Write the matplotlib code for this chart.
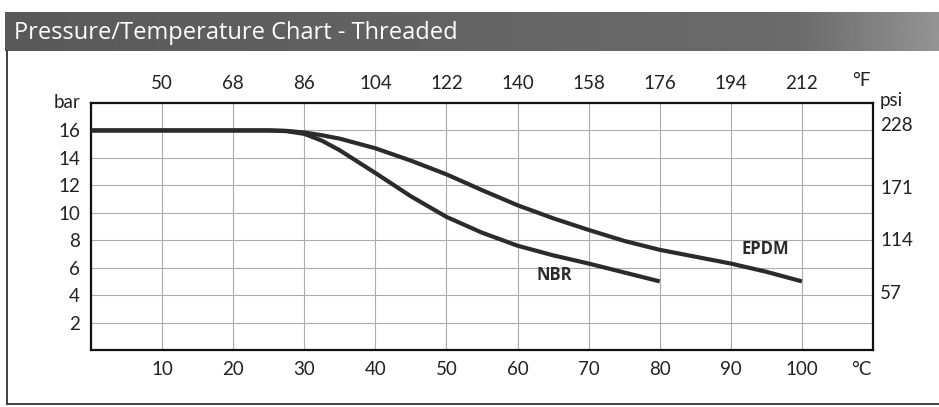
import matplotlib
matplotlib.use("Agg")
import matplotlib.pyplot as plt
import numpy as np
from matplotlib.lines import Line2D

# temperature in degC, pressure in bar
nbr_temp = [0, 10, 20, 25, 27.5, 30, 32.5, 35, 40, 45, 50, 55, 60, 65, 70, 75, 80]
nbr_bar = [16, 16, 16, 16, 15.95, 15.75, 15.25, 14.55, 12.9, 11.2, 9.7, 8.55, 7.6, 6.9, 6.3, 5.65, 5.0]

epdm_temp = [0, 10, 20, 25, 27.5, 30, 32.5, 35, 40, 45, 50, 55, 60, 65, 70, 75, 80, 85, 90, 95, 100]
epdm_bar = [16, 16, 16, 16, 15.97, 15.85, 15.65, 15.4, 14.7, 13.8, 12.8, 11.65, 10.55, 9.6, 8.75, 7.95, 7.3, 6.8, 6.3, 5.7, 5.0]

celsius_ticks = [10, 20, 30, 40, 50, 60, 70, 80, 90, 100]
fahrenheit_labels = ["50", "68", "86", "104", "122", "140", "158", "176", "194", "212"]
bar_ticks = [2, 4, 6, 8, 10, 12, 14, 16]
psi_ticks = [16.5, 11.9, 8.1, 4.2]
psi_labels = ["228", "171", "114", "57"]

title = "Pressure/Temperature Chart - Threaded"

W, H = 939, 407
fig = plt.figure(figsize=(W / 100, H / 100), dpi=100)
fig.patch.set_facecolor("white")

tick_font = "Lato"
tick_size = 13.5
tick_color = "#222222"
dark = "#2b2b2b"

# header bar
hax = fig.add_axes([5 / W, 1 - 51 / H, 934 / W, 39 / H])
grad = np.interp(np.linspace(0, 1, 400), [0, 0.85, 1], [0.35, 0.42, 0.58])
hax.imshow(grad[None, :], aspect="auto", cmap="gray", vmin=0, vmax=1,
           extent=[0, 1, 0, 1])
hax.set_axis_off()
hax.text(0.01, 0.47, title, color="white", fontsize=17, family="Open Sans",
         va="center", ha="left", transform=hax.transAxes)

# outer frame lines
fig.add_artist(Line2D([7 / W, 7 / W], [1 - 51 / H, 1 - 404 / H], color="#333", lw=1.3))
fig.add_artist(Line2D([7 / W, 1], [1 - 404 / H, 1 - 404 / H], color="#333", lw=1.3))

# main plot
ax = fig.add_axes([91 / W, 1 - 350 / H, (873 - 91) / W, (350 - 103) / H])
ax.plot(nbr_temp, nbr_bar, color=dark, lw=3, solid_capstyle="butt", zorder=3)
ax.plot(epdm_temp, epdm_bar, color=dark, lw=3, solid_capstyle="butt", zorder=3)
ax.set_xlim(0, 110)
ax.set_ylim(0, 18)

ax.set_xticks(celsius_ticks)
ax.set_yticks(bar_ticks)
ax.grid(True, color="#ababab", lw=0.8)
ax.tick_params(length=0, labelsize=tick_size, pad=8)
for lab in ax.get_xticklabels() + ax.get_yticklabels():
    lab.set_family(tick_font)
    lab.set_color(tick_color)
for s in ax.spines.values():
    s.set_linewidth(1.6)
    s.set_color("#111")

top = ax.secondary_xaxis("top")
top.set_xticks(celsius_ticks, labels=fahrenheit_labels)
top.tick_params(length=0, labelsize=tick_size, pad=8)
top.spines["top"].set_visible(False)

right = ax.secondary_yaxis("right")
right.set_yticks(psi_ticks, labels=psi_labels)
right.tick_params(length=0, labelsize=tick_size, pad=5)
right.spines["right"].set_visible(False)
for lab in top.get_xticklabels() + right.get_yticklabels():
    lab.set_family(tick_font)
    lab.set_color(tick_color)

# unit labels
unit_kw = dict(fontsize=tick_size, family=tick_font, color=tick_color)
ax.annotate("\u00b0F", xy=(108.4, 1.0), xycoords=("data", "axes fraction"),
            xytext=(0, 10), textcoords="offset points", ha="center", va="bottom", **unit_kw)
ax.annotate("\u00b0C", xy=(108.4, 0), xycoords=("data", "axes fraction"),
            xytext=(0, -8), textcoords="offset points", ha="center", va="top", **unit_kw)
ax.annotate("bar", xy=(0, 18), xycoords=("axes fraction", "data"),
            xytext=(-8, 0), textcoords="offset points", ha="right", va="center", **unit_kw)
ax.annotate("psi", xy=(1, 18), xycoords=("axes fraction", "data"),
            xytext=(5, 2), textcoords="offset points", ha="left", va="center", **unit_kw)

# series labels
ax.text(65.1, 5.5, "NBR", fontsize=12, fontweight="bold", family="Open Sans",
        ha="center", va="center", color=dark)
ax.text(94.9, 7.35, "EPDM", fontsize=12, fontweight="bold", family="Open Sans",
        ha="center", va="center", color=dark)

fig.savefig("out.png", dpi=100)
